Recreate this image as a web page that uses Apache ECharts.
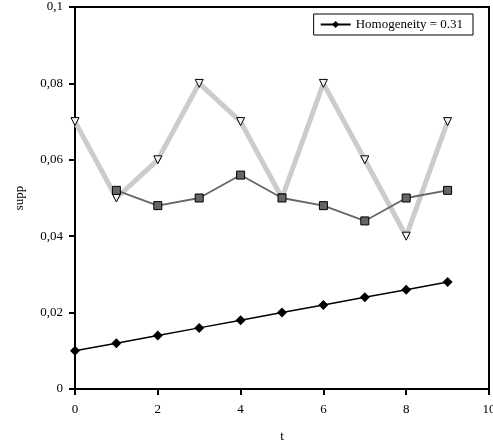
<!DOCTYPE html>
<html>
<head>
<meta charset="utf-8">
<script src="https://cdn.jsdelivr.net/npm/echarts@6/dist/echarts.min.js"></script>
<style>
  html, body { margin: 0; padding: 0; background: #fff; }
  #chart { width: 493px; height: 446px; }
</style>
</head>
<body>
<div id="chart"></div>
<script>
// t values and the three supp series
var tAll = [0, 1, 2, 3, 4, 5, 6, 7, 8, 9];
var homogeneity = [0.010, 0.012, 0.014, 0.016, 0.018, 0.020, 0.022, 0.024, 0.026, 0.028];
var squaresT = [1, 2, 3, 4, 5, 6, 7, 8, 9];
var squares = [0.052, 0.048, 0.050, 0.056, 0.050, 0.048, 0.044, 0.050, 0.052];
var triangles = [0.070, 0.050, 0.060, 0.080, 0.070, 0.050, 0.080, 0.060, 0.040, 0.070];

function pairs(xs, ys) {
    return xs.map(function (x, i) { return [x, ys[i]]; });
}

var font = "'Liberation Serif', 'DejaVu Serif', serif";

var chart = echarts.init(document.getElementById('chart'));
chart.setOption({
    animation: false,
    textStyle: { fontFamily: font, color: '#000' },
    grid: {
        left: 75, right: 4, top: 7, bottom: 57,
        outerBoundsMode: 'none',
        show: true, borderColor: '#000', borderWidth: 2
    },
    legend: {
        data: ['Homogeneity = 0.31'],
        right: 20, top: 14,
        padding: [4, 10, 4, 6],
        borderColor: '#000', borderWidth: 1,
        backgroundColor: '#fff',
        itemWidth: 30, itemHeight: 9,
        textStyle: { fontFamily: font, fontSize: 13, color: '#000' }
    },
    xAxis: {
        type: 'value', min: 0, max: 10, interval: 2,
        name: 't', nameLocation: 'middle', nameGap: 41,
        nameTextStyle: { fontFamily: font, fontSize: 13, color: '#000' },
        axisLine: { show: true, lineStyle: { color: '#000', width: 2 } },
        axisTick: { show: true, length: 6, lineStyle: { color: '#000', width: 2 } },
        axisLabel: { fontFamily: font, fontSize: 13, color: '#000', margin: 14 },
        splitLine: { show: false }
    },
    yAxis: {
        type: 'value', min: 0, max: 0.1, interval: 0.02,
        name: 'supp', nameLocation: 'middle', nameGap: 49,
        nameTextStyle: { fontFamily: font, fontSize: 13, color: '#000' },
        axisLine: { show: true, lineStyle: { color: '#000', width: 2 } },
        axisTick: { show: true, length: 6, lineStyle: { color: '#000', width: 2 } },
        axisLabel: {
            fontFamily: font, fontSize: 13, color: '#000', margin: 12,
            formatter: function (v) { return v === 0 ? '0' : String(+v.toFixed(2)).replace('.', ','); }
        },
        splitLine: { show: false }
    },
    series: [
        {
            name: 'triangles', type: 'line',
            data: pairs(tAll, triangles),
            symbol: 'triangle', symbolRotate: 180, symbolSize: 8,
            lineStyle: { color: '#cccccc', width: 5 },
            itemStyle: { color: '#f2f2f2', borderColor: '#000', borderWidth: 1 },
            z: 2
        },
        {
            name: 'squares', type: 'line',
            data: pairs(squaresT, squares),
            symbol: 'rect', symbolSize: 8,
            lineStyle: { color: '#666', width: 1.8 },
            itemStyle: { color: '#666', borderColor: '#000', borderWidth: 1 },
            z: 3
        },
        {
            name: 'Homogeneity = 0.31', type: 'line',
            data: pairs(tAll, homogeneity),
            symbol: 'diamond', symbolSize: 10,
            lineStyle: { color: '#000', width: 1.5 },
            itemStyle: { color: '#000' },
            z: 4
        }
    ]
});
</script>
</body>
</html>
